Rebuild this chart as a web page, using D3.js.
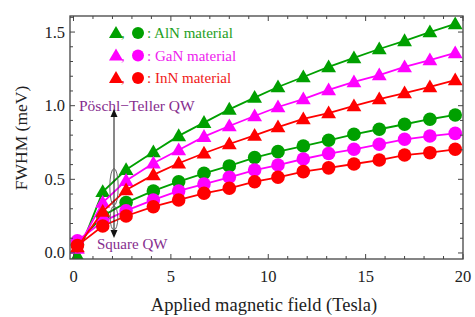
<!DOCTYPE html>
<html><head><meta charset="utf-8">
<script src="https://cdn.jsdelivr.net/npm/d3@7"></script>
<style>
html,body{margin:0;padding:0;background:#fff;}
svg{display:block;}
text{font-family:"Liberation Serif","Times New Roman",Times,serif;}
</style></head>
<body>
<svg id="c" width="475" height="317"></svg>
<script>
const fields = [0.2,1.5,2.7,4.1,5.4,6.7,8.0,9.3,10.5,11.8,13.1,14.4,15.7,17.0,18.3,19.6];
const alnPT = [-0.02,0.415,0.565,0.685,0.795,0.885,0.975,1.055,1.127,1.195,1.263,1.324,1.385,1.44,1.50,1.555];
const ganPT = [0.03,0.342,0.491,0.609,0.699,0.79,0.862,0.93,0.991,1.045,1.107,1.161,1.208,1.263,1.310,1.358];
const innPT = [0.04,0.281,0.428,0.530,0.609,0.677,0.74,0.798,0.855,0.910,0.950,0.998,1.045,1.086,1.127,1.174];
const alnSq = [0.06,0.251,0.342,0.421,0.484,0.541,0.591,0.648,0.688,0.726,0.765,0.806,0.840,0.874,0.908,0.937];
const ganSq = [0.083,0.213,0.287,0.360,0.421,0.468,0.514,0.563,0.597,0.638,0.675,0.704,0.738,0.772,0.794,0.812];
const innSq = [0.05,0.183,0.251,0.314,0.360,0.405,0.439,0.484,0.514,0.552,0.578,0.604,0.631,0.665,0.681,0.704];
const materials = ["AlN","GaN","InN"];
const colors = ["#00a000","#ff00ff","#ff0000"];
const textColors = ["#1ea01e","#ee22ee","#f01818"];
const xTicks = [0,5,10,15,20];
const yTicks = [0.0,0.5,1.0,1.5];
const xLabel = "Applied magnetic field (Tesla)";
const yLabel = "FWHM (meV)";

const FONT = '"Liberation Serif","Times New Roman",Times,serif';
const svg = d3.select("#c");
const L=70,R=463,T=16,B=259;
const x = d3.scaleLinear().domain([-0.18,20]).range([L,R]);
const y = d3.scaleLinear().domain([-0.041,1.609]).range([B,T]);

svg.append("defs").append("clipPath").attr("id","clip")
  .append("rect").attr("x",L).attr("y",T).attr("width",R-L).attr("height",B-T);

const ptSeries = [alnPT,ganPT,innPT];
const sqSeries = [alnSq,ganSq,innSq];
const line = d3.line().x(d=>x(d[0])).y(d=>y(d[1]));
const plot = svg.append("g").attr("clip-path","url(#clip)");
const tri = d3.symbol().type(d3.symbolTriangle).size(95);
const circ = d3.symbol().type(d3.symbolCircle).size(145);

[0,1,2].forEach(i=>{
  [ptSeries[i], sqSeries[i]].forEach((s,k)=>{
    const pts = fields.map((f,j)=>[f,s[j]]);
    plot.append("path").attr("d",line(pts)).attr("fill","none")
      .attr("stroke",colors[i]).attr("stroke-width",1.8);
    plot.selectAll(null).data(pts).enter().append("path")
      .attr("d", k===0 ? tri : circ)
      .attr("transform",d=>`translate(${x(d[0])},${y(d[1]) + (k===0?1:0)})`)
      .attr("fill",colors[i]);
  });
});

// frame
svg.append("rect").attr("x",L).attr("y",T).attr("width",R-L).attr("height",B-T)
  .attr("fill","none").attr("stroke","#444").attr("stroke-width",1.3);

// ticks
const tg = svg.append("g").attr("stroke","#444").attr("stroke-width",1);
d3.range(0,21,1).forEach(v=>{
  const len = v%5===0?5:3;
  tg.append("line").attr("x1",x(v)).attr("x2",x(v)).attr("y1",B).attr("y2",B-len);
  tg.append("line").attr("x1",x(v)).attr("x2",x(v)).attr("y1",T).attr("y2",T+len);
});
d3.range(0,16.1,1).forEach(k=>{
  const v=k/10; const len = k%5===0?5:3;
  tg.append("line").attr("x1",L).attr("x2",L+len).attr("y1",y(v)).attr("y2",y(v));
  tg.append("line").attr("x1",R).attr("x2",R-len).attr("y1",y(v)).attr("y2",y(v));
});

svg.selectAll(".xt").data(xTicks).enter().append("text")
  .attr("x",d=>x(d)).attr("y",282).attr("text-anchor","middle").attr("font-family",FONT)
  .attr("font-size",16.5).attr("fill","#222").text(d=>d);
svg.selectAll(".yt").data(yTicks).enter().append("text")
  .attr("x",65).attr("y",d=>y(d)+5.5).attr("text-anchor","end").attr("font-family",FONT)
  .attr("font-size",16.5).attr("fill","#222").text(d=>d.toFixed(1));

svg.append("text").attr("x",264).attr("y",311).attr("text-anchor","middle").attr("font-family",FONT)
  .attr("font-size",18.5).attr("fill","#222").text(xLabel);
svg.append("text").attr("transform","translate(27,138) rotate(-90)").attr("font-family",FONT)
  .attr("text-anchor","middle").attr("font-size",17.5).attr("fill","#222").text(yLabel);

// legend
materials.forEach((m,i)=>{
  const ly = 33 + i*22.5;
  const g = svg.append("g");
  g.append("path").attr("d",d3.symbol().type(d3.symbolTriangle).size(85)())
    .attr("transform",`translate(116,${ly+1})`).attr("fill",colors[i]);
  g.append("text").attr("x",121).attr("y",ly+5).attr("font-family",FONT).attr("font-size",15).attr("fill",textColors[i]).text(",");
  g.append("circle").attr("cx",138).attr("cy",ly).attr("r",6).attr("fill",colors[i]);
  g.append("text").attr("x",147).attr("y",ly+5).attr("font-family",FONT).attr("font-size",15).attr("fill",textColors[i])
    .text(": " + m + " material");
});

// annotations
const purple = "#862d8e";
svg.append("text").attr("x",79).attr("y",111).attr("font-family",FONT).attr("font-size",15.5).attr("fill",purple).text("Pöschl\u2212Teller QW");
svg.append("text").attr("x",97).attr("y",249).attr("font-family",FONT).attr("font-size",15).attr("fill",purple).text("Square QW");
const ax = 114;
svg.append("line").attr("x1",ax).attr("x2",ax).attr("y1",114).attr("y2",232).attr("stroke","#111").attr("stroke-width",1);
svg.append("path").attr("d",`M${ax-3.5},${117} L${ax},${109} L${ax+3.5},${117} Z`).attr("fill","#111");
svg.append("path").attr("d",`M${ax-3.5},${230} L${ax},${238} L${ax+3.5},${230} Z`).attr("fill","#111");
svg.append("ellipse").attr("cx",ax).attr("cy",187).attr("rx",4.2).attr("ry",18.5)
  .attr("fill","none").attr("stroke","#555").attr("stroke-width",0.9);
svg.append("ellipse").attr("cx",ax).attr("cy",218).attr("rx",3.8).attr("ry",12)
  .attr("fill","none").attr("stroke","#555").attr("stroke-width",0.9);
</script>
</body></html>
